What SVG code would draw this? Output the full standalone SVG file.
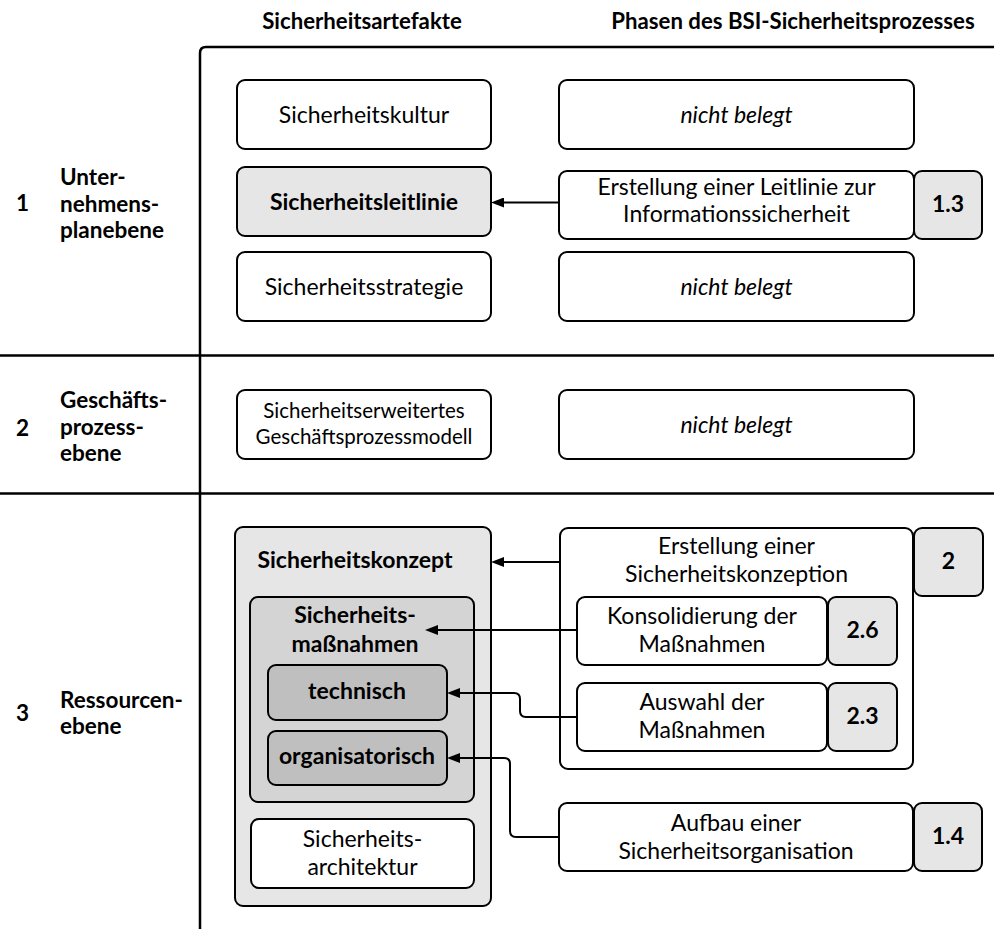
<svg xmlns="http://www.w3.org/2000/svg" width="994" height="929" viewBox="0 0 994 929">
  <defs>
    <style>
      text { font-family: Lato, "Open Sans", "Liberation Sans", sans-serif; font-size: 23px; fill: #000; }
      .c { text-anchor: middle; }
      .b { font-weight: bold; }
      .i { font-style: italic; }
      .sm { font-size: 20.5px; }
      .hd { font-weight: bold; font-size: 22.2px; }
      .lbl { font-weight: bold; font-size: 22.5px; }
      .box { stroke: #000; stroke-width: 2; }
      .w { fill: #fff; }
      .g1 { fill: #e6e6e6; }
      .g2 { fill: #d4d4d4; }
      .g3 { fill: #bfbfbf; }
      .grid { fill: none; stroke: #000; stroke-width: 2.5; }
      .con { fill: none; stroke: #000; stroke-width: 2; marker-end: url(#arr); }
    </style>
    <marker id="arr" markerWidth="13" markerHeight="10" refX="5" refY="5" orient="auto" markerUnits="userSpaceOnUse">
      <path d="M0,0 L13,5 L0,10 Z" fill="#000"/>
    </marker>
  </defs>

  <rect width="994" height="929" fill="#fff"/>

  <!-- table grid -->
  <g id="grid">
    <path class="grid" d="M200,929 V53 Q200,47 206,47 H994"/>
    <line class="grid" x1="0" y1="355.5" x2="994" y2="355.5"/>
    <line class="grid" x1="0" y1="493.5" x2="994" y2="493.5"/>
  </g>

  <!-- column headers -->
  <g id="headers">
    <text class="c hd" x="362" y="29">Sicherheitsartefakte</text>
    <text class="c hd" x="793" y="29">Phasen des BSI-Sicherheitsprozesses</text>
  </g>

  <!-- row labels -->
  <g id="row1">
    <text class="lbl" x="16" y="211">1</text>
    <text class="lbl" x="60" y="185">Unter-</text>
    <text class="lbl" x="60" y="211.5">nehmens-</text>
    <text class="lbl" x="60" y="238">planebene</text>
  </g>
  <g id="row2">
    <text class="lbl" x="16" y="436">2</text>
    <text class="lbl" x="60" y="408">Geschäfts-</text>
    <text class="lbl" x="60" y="434.5">prozess-</text>
    <text class="lbl" x="60" y="461">ebene</text>
  </g>
  <g id="row3">
    <text class="lbl" x="16" y="721">3</text>
    <text class="lbl" x="60" y="708">Ressourcen-</text>
    <text class="lbl" x="60" y="734">ebene</text>
  </g>

  <!-- security artefacts -->
  <g id="kultur">
    <rect class="box w" x="237" y="80" width="254" height="69" rx="8"/>
    <text class="c" x="364" y="123">Sicherheitskultur</text>
  </g>
  <g id="leitlinie">
    <rect class="box g1" x="237" y="167" width="254" height="69" rx="8"/>
    <text class="c b" x="364" y="210">Sicherheitsleitlinie</text>
  </g>
  <g id="strategie">
    <rect class="box w" x="237" y="252" width="254" height="69" rx="8"/>
    <text class="c" x="364" y="295">Sicherheitsstrategie</text>
  </g>
  <g id="gpm">
    <rect class="box w" x="237" y="390" width="254" height="69" rx="8"/>
    <text class="c sm" x="364" y="418">Sicherheitserweitertes</text>
    <text class="c sm" x="364" y="443.5">Geschäftsprozessmodell</text>
  </g>
  <g id="konzept">
    <rect class="box g1" x="235" y="527" width="256" height="379" rx="8"/>
    <text class="c b" x="355" y="568">Sicherheitskonzept</text>
  </g>
  <g id="massnahmen">
    <rect class="box g2" x="250" y="597" width="224" height="205" rx="8"/>
    <text class="c b" x="355" y="623">Sicherheits-</text>
    <text class="c b" x="355" y="651.5">maßnahmen</text>
  </g>
  <g id="technisch">
    <rect class="box g3" x="268" y="665" width="179" height="55" rx="8"/>
    <text class="c b" x="357" y="699">technisch</text>
  </g>
  <g id="organisatorisch">
    <rect class="box g3" x="268" y="731" width="179" height="54" rx="8"/>
    <text class="c b" x="357" y="764">organisatorisch</text>
  </g>
  <g id="architektur">
    <rect class="box w" x="251" y="819" width="223" height="69" rx="8"/>
    <text class="c" x="362.5" y="847">Sicherheits-</text>
    <text class="c" x="362.5" y="875">architektur</text>
  </g>

  <!-- BSI process phases -->
  <g id="phase-empty-1">
    <rect class="box w" x="559" y="80" width="355" height="69" rx="8"/>
    <text class="c i" x="736.5" y="123">nicht belegt</text>
  </g>
  <g id="phase-1-3">
    <rect class="box w" x="559" y="171" width="355" height="68" rx="8"/>
    <text class="c" x="736.5" y="195">Erstellung einer Leitlinie zur</text>
    <text class="c" x="736.5" y="222">Informationssicherheit</text>
    <rect class="box g1" x="914" y="171" width="68" height="68" rx="8"/>
    <text class="c b" x="948" y="212">1.3</text>
  </g>
  <g id="phase-empty-2">
    <rect class="box w" x="559" y="252" width="355" height="69" rx="8"/>
    <text class="c i" x="736.5" y="295">nicht belegt</text>
  </g>
  <g id="phase-empty-3">
    <rect class="box w" x="559" y="390" width="355" height="69" rx="8"/>
    <text class="c i" x="736.5" y="433">nicht belegt</text>
  </g>
  <g id="phase-2">
    <rect class="box w" x="560" y="528" width="353" height="241" rx="8"/>
    <text class="c" x="736.5" y="553.5">Erstellung einer</text>
    <text class="c" x="736.5" y="581.5">Sicherheitskonzeption</text>
    <rect class="box g1" x="914" y="528" width="69" height="68" rx="8"/>
    <text class="c b" x="948.5" y="569">2</text>
  </g>
  <g id="phase-2-6">
    <rect class="box w" x="577" y="597" width="250" height="68" rx="8"/>
    <text class="c" x="702" y="623.5">Konsolidierung der</text>
    <text class="c" x="702" y="651.5">Maßnahmen</text>
    <rect class="box g1" x="828" y="597" width="69" height="68" rx="8"/>
    <text class="c b" x="862.5" y="638">2.6</text>
  </g>
  <g id="phase-2-3">
    <rect class="box w" x="577" y="683" width="250" height="68" rx="8"/>
    <text class="c" x="702" y="710">Auswahl der</text>
    <text class="c" x="702" y="738">Maßnahmen</text>
    <rect class="box g1" x="828" y="683" width="69" height="68" rx="8"/>
    <text class="c b" x="862.5" y="724">2.3</text>
  </g>
  <g id="phase-1-4">
    <rect class="box w" x="559" y="803" width="354" height="68" rx="8"/>
    <text class="c" x="736" y="830.5">Aufbau einer</text>
    <text class="c" x="736" y="858.5">Sicherheitsorganisation</text>
    <rect class="box g1" x="914" y="803" width="68" height="68" rx="8"/>
    <text class="c b" x="948" y="844">1.4</text>
  </g>

  <!-- connectors -->
  <g id="connectors">
    <path class="con" d="M559,202.5 H499"/>
    <path class="con" d="M560,562 H499"/>
    <path class="con" d="M577,630 H433"/>
    <path class="con" d="M577,717 H526 Q520,717 520,711 V699 Q520,693 514,693 H455"/>
    <path class="con" d="M559,837 H516 Q510,837 510,831 V764 Q510,758 504,758 H455"/>
  </g>
</svg>
